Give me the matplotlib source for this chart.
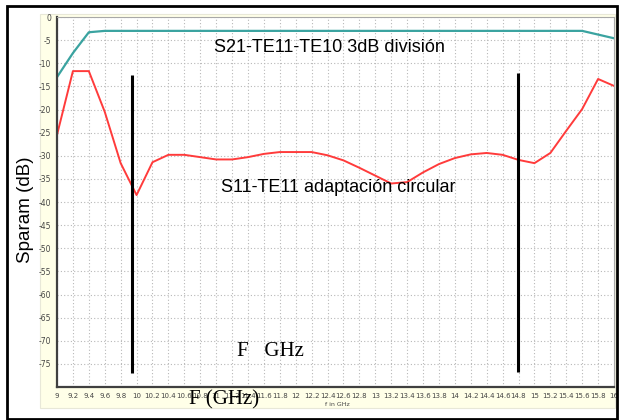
import numpy as np
import matplotlib
matplotlib.use('Agg')
import matplotlib.pyplot as plt
from matplotlib.patches import Rectangle

# frequencies in GHz, S-parameters in dB
freq = [9.0, 9.2, 9.4, 9.6, 9.8, 10.0, 10.2, 10.4, 10.6, 10.8, 11.0, 11.2, 11.4,
        11.6, 11.8, 12.0, 12.2, 12.4, 12.6, 12.8, 13.0, 13.2, 13.4, 13.6, 13.8,
        14.0, 14.2, 14.4, 14.6, 14.8, 15.0, 15.2, 15.4, 15.6, 15.8, 16.0]
s11 = [-25.5, -11.7, -11.7, -20.5, -31.6, -38.5, -31.4, -29.8, -29.8, -30.3, -30.8,
       -30.8, -30.3, -29.6, -29.2, -29.2, -29.2, -29.9, -31.0, -32.6, -34.3, -36.0,
       -35.7, -33.6, -31.8, -30.5, -29.7, -29.4, -29.8, -30.9, -31.6, -29.4, -24.6,
       -19.9, -13.4, -14.9]
s21_freq = [9.0, 9.2, 9.4, 9.6, 15.6, 16.0]
s21 = [-13.0, -7.8, -3.3, -3.0, -3.0, -4.6]

# black markers drawn by hand on the original
band_x = [9.94, 14.79]
band_top = [-12.5, -12.1]
band_bottom = [-77.0, -76.8]

fig = plt.figure(figsize=(6.2, 4.2), dpi=100)
fig.patch.set_facecolor('white')

# pale yellow panel and outer black frame
fig.add_artist(Rectangle((40/620, 12/420), 575/620, 394/420, transform=fig.transFigure,
                         facecolor='#ffffe8', edgecolor='#e8e8d8', lw=0.8, zorder=-2))
fig.add_artist(Rectangle((7/620, 1/420), 610/620, 413/420, transform=fig.transFigure,
                         facecolor='none', edgecolor='black', lw=2, zorder=5))

ax = fig.add_axes([57/620, 33/420, 557/620, 370/420])
ax.set_zorder(1)
ax.set_facecolor('white')

ax.plot(s21_freq, s21, color='#3aa3a0', lw=1.6)
ax.plot(freq, s11, color='#ff3b3b', lw=1.4)
ax.vlines(band_x, band_bottom, band_top, color='black', lw=2.2)

xt = np.round(np.arange(9, 16.01, 0.2), 1)
ax.set_xlim(9, 16)
ax.set_ylim(-80, 0)
ax.set_xticks(xt)
ax.set_xticklabels([f'{v:g}' for v in xt])
ax.set_yticks(np.arange(-80, 1, 5))
ax.set_yticklabels(['' if v == -80 else str(v) for v in np.arange(-80, 1, 5)])
ax.tick_params(axis='both', length=0, labelsize=5.5, colors='#444444')
ax.tick_params(axis='x', pad=4, labelsize=5)
ax.tick_params(axis='y', pad=4)
for lab in ax.get_xticklabels():
    lab.set_family(['Liberation Sans Narrow', 'DejaVu Sans'])
ax.grid(True, color='#b8b8b8', lw=0.8, linestyle=(0, (1, 2)))

for side in ['left', 'bottom']:
    ax.spines[side].set_color('#404040')
    ax.spines[side].set_linewidth(1.6)
for side in ['top', 'right']:
    ax.spines[side].set_color('#a8a8a8')
    ax.spines[side].set_linewidth(0.8)

ax.text(12.43, -6.7, 'S21-TE11-TE10 3dB división', ha='center', va='center',
        fontsize=13, family='Liberation Sans')
ax.text(12.53, -36.8, 'S11-TE11 adaptación circular', ha='center', va='center',
        fontsize=13, family='Liberation Sans')
ax.text(11.68, -72.4, 'F   GHz', ha='center', va='center', fontsize=15,
        family='Liberation Serif')

fig.text(224/620, 20/420, 'F (GHz)', ha='center', va='center', fontsize=15,
         family='Liberation Serif', zorder=3)
fig.text(337/620, 15/420, 'f in GHz', ha='center', va='center', fontsize=4.5,
         color='#444444')
fig.text(26/620, 210/420, 'Sparam (dB)', ha='center', va='center', rotation=90,
         fontsize=13.5, family='Liberation Sans')

fig.savefig('out.png', dpi=100)
